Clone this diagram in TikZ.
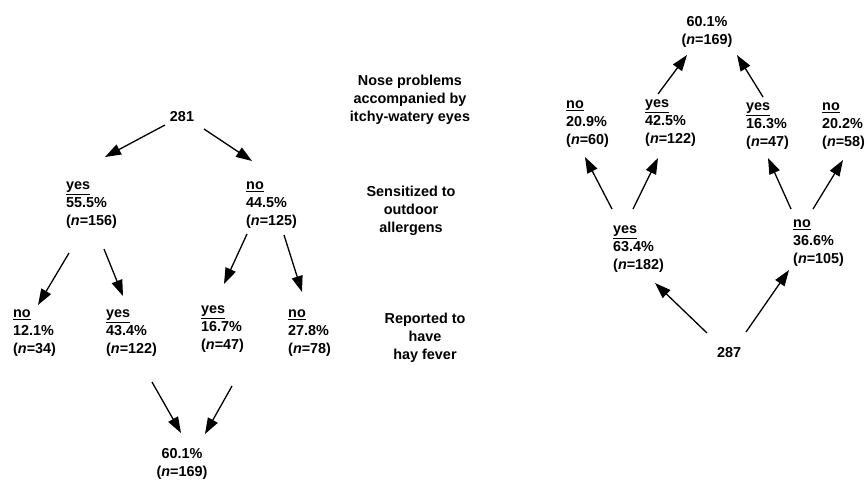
\documentclass[tikz,border=0pt]{standalone}
\usepackage{fontspec}
\setmainfont{Liberation Sans}
\usetikzlibrary{arrows.meta}
\newcommand{\nvar}{\textit{n}}
\begin{document}
\begin{tikzpicture}[x=1pt,y=-1pt,
  lbl/.style={font=\fontsize{14.4}{18}\selectfont\bfseries, inner sep=0pt, align=left, anchor=west},
  ctr/.style={font=\fontsize{14.4}{18}\selectfont\bfseries, inner sep=0pt, align=center},
  arr/.style={line width=1.3pt, -{Triangle[length=16pt,width=11pt]}}]
\useasboundingbox (0,0) rectangle (866,479);
% ---------- left tree ----------
\node[ctr] (n281) at (182,117) {281};
\node[lbl] (yesA) at (66,205) {\underline{yes}\\55.5\%\\(\nvar=156)};
\node[lbl] (noA) at (246,205) {\underline{no}\\44.5\%\\(\nvar=125)};
\node[lbl] (noB) at (13,333) {\underline{no}\\12.1\%\\(\nvar=34)};
\node[lbl] (yesB) at (106,333) {\underline{yes}\\43.4\%\\(\nvar=122)};
\node[lbl] (yesC) at (201,329) {\underline{yes}\\16.7\%\\(\nvar=47)};
\node[lbl] (noC) at (288,333) {\underline{no}\\27.8\%\\(\nvar=78)};
\node[ctr] (totL) at (182,464) {60.1\%\\(\nvar=169)};
\node[ctr] (labA) at (410,99.5) {Nose problems\\accompanied by\\itchy-watery eyes};
\node[ctr] (labB) at (411,211) {Sensitized to\\outdoor\\allergens};
\node[ctr] (labC) at (425,338) {Reported to\\have\\hay fever};
% ---------- right tree ----------
\node[ctr] (totR) at (707,31.5) {60.1\%\\(\nvar=169)};
\node[lbl] (noD) at (566,124) {\underline{no}\\20.9\%\\(\nvar=60)};
\node[lbl] (yesD) at (645,123) {\underline{yes}\\42.5\%\\(\nvar=122)};
\node[lbl] (yesE) at (746,126) {\underline{yes}\\16.3\%\\(\nvar=47)};
\node[lbl] (noE) at (822,126) {\underline{no}\\20.2\%\\(\nvar=58)};
\node[lbl] (yesF) at (613,249) {\underline{yes}\\63.4\%\\(\nvar=182)};
\node[lbl] (noF) at (793,243) {\underline{no}\\36.6\%\\(\nvar=105)};
\node[ctr] (n287) at (729,353) {287};
% ---------- connector ends ----------
\coordinate (s1) at (165,125); \coordinate (e1) at (105,157);
\coordinate (s2) at (204,129); \coordinate (e2) at (252,161);
\coordinate (s3) at (69,253);  \coordinate (e3) at (38,305);
\coordinate (s4) at (104,249); \coordinate (e4) at (123,296);
\coordinate (s5) at (247,234); \coordinate (e5) at (224,284);
\coordinate (s6) at (284,235); \coordinate (e6) at (302,292);
\coordinate (s7) at (152,382); \coordinate (e7) at (181,433);
\coordinate (s8) at (232,386); \coordinate (e8) at (205,434);
\coordinate (s9) at (658,94);  \coordinate (e9) at (687,55);
\coordinate (s10) at (763,97); \coordinate (e10) at (737,55);
\coordinate (s11) at (612,209); \coordinate (e11) at (585,157);
\coordinate (s12) at (633,209); \coordinate (e12) at (658,158);
\coordinate (s13) at (791,209); \coordinate (e13) at (768,158);
\coordinate (s14) at (813,209); \coordinate (e14) at (843,160);
\coordinate (s15) at (707,333); \coordinate (e15) at (655,283);
\coordinate (s16) at (746,332); \coordinate (e16) at (789,270);
\foreach \i in {1,...,16} {\draw[arr] (s\i) -- (e\i);}
\end{tikzpicture}
\end{document}
